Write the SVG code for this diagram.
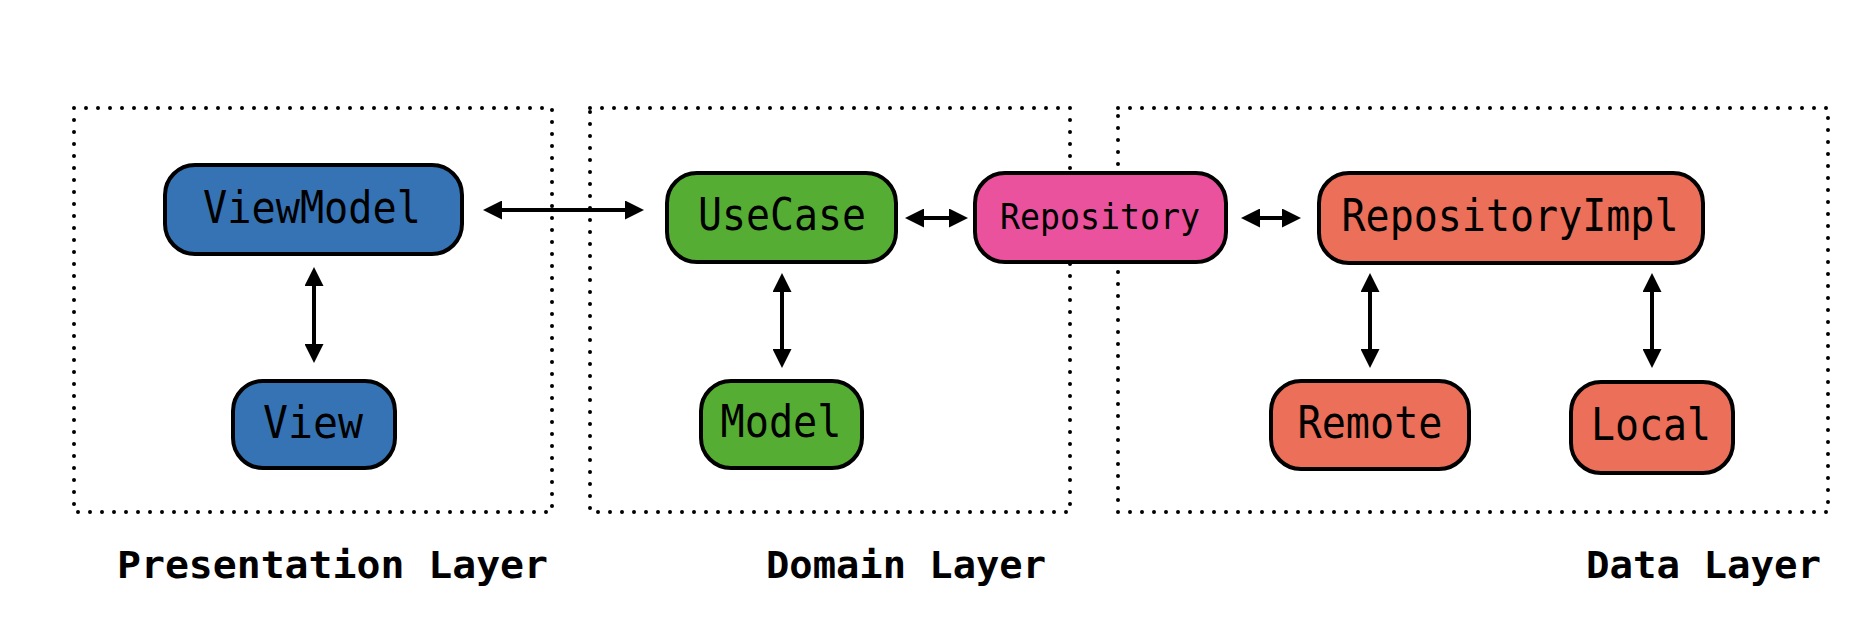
<svg xmlns="http://www.w3.org/2000/svg" width="1872" height="644" viewBox="0 0 1872 644">
<style>
.layer{fill:none;stroke:#000;stroke-width:4;stroke-dasharray:0 12;stroke-linecap:round}
.node{stroke:#000;stroke-width:4}
.blue{fill:#3573B5}
.green{fill:#55AE33}
.pink{fill:#EB529D}
.red{fill:#EC6F59}
.t{font-family:"DejaVu Sans Mono","Liberation Mono",monospace;font-size:45px;fill:#000;text-anchor:middle}
.ts{font-size:36px}
.lbl{font-family:"DejaVu Sans Mono","Liberation Mono",monospace;font-size:38px;font-weight:bold;fill:#000}
.conn line{stroke:#000;stroke-width:4;marker-start:url(#ah);marker-end:url(#ah)}
</style>
<defs>
<marker id="ah" viewBox="0 0 19 19" refX="0" refY="9.5" markerWidth="19" markerHeight="19" markerUnits="userSpaceOnUse" orient="auto-start-reverse">
<path d="M0,0 L19,9.5 L0,19 z" fill="#000"/>
</marker>
</defs>
<rect width="1872" height="644" fill="#fff"/>
<g id="layers">
<rect class="layer" x="74" y="108" width="478" height="404"/>
<rect class="layer" x="590" y="108" width="480" height="404"/>
<rect class="layer" x="1118" y="108" width="710" height="404"/>
</g>
<g class="conn" id="connectors">
<line x1="502" y1="210" x2="625" y2="210"/>
<line x1="924" y1="218" x2="949" y2="218"/>
<line x1="1260" y1="218" x2="1282" y2="218"/>
<line x1="314" y1="286" x2="314" y2="344"/>
<line x1="782" y1="292" x2="782" y2="349"/>
<line x1="1370" y1="292" x2="1370" y2="349"/>
<line x1="1652" y1="292" x2="1652" y2="349"/>
</g>
<g id="viewmodel"><rect class="node blue" x="165" y="165" width="297" height="89" rx="30"/><text class="t" x="312" y="223" textLength="218" lengthAdjust="spacingAndGlyphs">ViewModel</text></g>
<g id="view"><rect class="node blue" x="233" y="381" width="162" height="87" rx="30"/><text class="t" x="313" y="438" textLength="100" lengthAdjust="spacingAndGlyphs">View</text></g>
<g id="usecase"><rect class="node green" x="667" y="173" width="229" height="89" rx="30"/><text class="t" x="782" y="230" textLength="168" lengthAdjust="spacingAndGlyphs">UseCase</text></g>
<g id="model"><rect class="node green" x="701" y="381" width="161" height="87" rx="30"/><text class="t" x="781" y="437" textLength="121" lengthAdjust="spacingAndGlyphs">Model</text></g>
<g id="repository"><rect class="node pink" x="975" y="173" width="251" height="89" rx="30"/><text class="t ts" x="1100" y="229" textLength="200" lengthAdjust="spacingAndGlyphs">Repository</text></g>
<g id="repositoryimpl"><rect class="node red" x="1319" y="173" width="384" height="90" rx="30"/><text class="t" x="1510" y="231" textLength="337" lengthAdjust="spacingAndGlyphs">RepositoryImpl</text></g>
<g id="remote"><rect class="node red" x="1271" y="381" width="198" height="88" rx="30"/><text class="t" x="1370" y="438" textLength="145" lengthAdjust="spacingAndGlyphs">Remote</text></g>
<g id="local"><rect class="node red" x="1571" y="382" width="162" height="91" rx="30"/><text class="t" x="1651" y="440" textLength="120" lengthAdjust="spacingAndGlyphs">Local</text></g>
<g id="labels">
<text class="lbl" x="117" y="578" textLength="431" lengthAdjust="spacingAndGlyphs">Presentation Layer</text>
<text class="lbl" x="766" y="578" textLength="280" lengthAdjust="spacingAndGlyphs">Domain Layer</text>
<text class="lbl" x="1586" y="578" textLength="235" lengthAdjust="spacingAndGlyphs">Data Layer</text>
</g>
</svg>
